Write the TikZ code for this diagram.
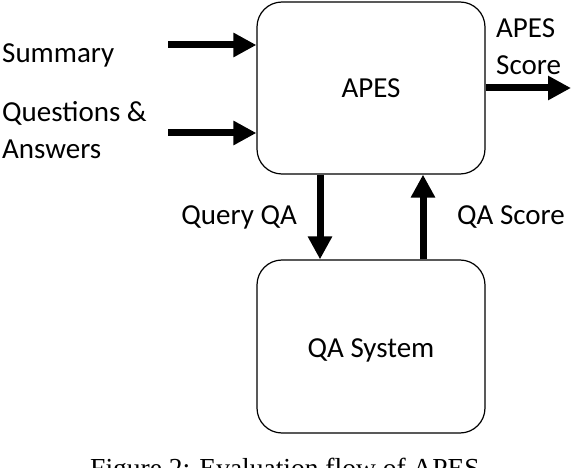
\documentclass[tikz,border=0pt]{standalone}
\usepackage{fontspec}
\setmainfont{Carlito}
\newfontfamily\capfont{Liberation Serif}
\usetikzlibrary{arrows.meta,calc}
\begin{document}
\begin{tikzpicture}[x=1pt,y=1pt,
  blockbox/.style={draw=black,line width=1.2pt,rounded corners=25pt,
    minimum width=228pt,minimum height=172pt,inner sep=0pt,
    font=\fontsize{29}{37.5}\selectfont},
  lbl/.style={inner sep=0pt,font=\fontsize{29}{37.5}\selectfont,align=left},
  flow/.style={line width=7pt,-{Triangle[length=23pt,width=23pt]}},
]
\useasboundingbox (0,0) rectangle (574,-468);
\fill[white] (0,0) rectangle (574,-468);

\node[blockbox] (apes) at (371,-88) {APES};
\node[blockbox,minimum height=173pt,text height=23pt,text depth=0pt] (qa) at (371,-346.5) {QA System};

% left inputs
\node[lbl,anchor=base west] (sum) at (2,-63) {Summary};
\node[lbl,anchor=north west] (qna) at (2,-101) {Questions \&\\Answers};
\coordinate (s1) at (168,-45);
\coordinate (s2) at (168,-133);
\draw[flow] (s1) -- (apes.west |- s1);
\draw[flow] (s2) -- (apes.west |- s2);

% output
\coordinate (o1) at (apes.east |- 0,-88);
\coordinate (o2) at (571,-88);
\draw[flow] (o1) -- (o2);
\node[lbl,anchor=north west] (score) at (496,-18) {APES\\Score};

% vertical flows
\coordinate (q1) at (320,0);
\coordinate (q2) at (423,0);
\draw[flow] (apes.south -| q1) -- (qa.north -| q1);
\draw[flow] (qa.north -| q2) -- (apes.south -| q2);
\node[lbl,anchor=east] (qq) at (297,-217) {Query QA};
\node[lbl,anchor=west] (qs) at (457,-217) {QA Score};

% caption (clipped at the lower edge, as in the reference)
\node[inner sep=0pt,anchor=base,font=\capfont\fontsize{27.5}{33}\selectfont] (cap) at (285,-477) {Figure 2: Evaluation flow of APES};
\end{tikzpicture}
\end{document}
